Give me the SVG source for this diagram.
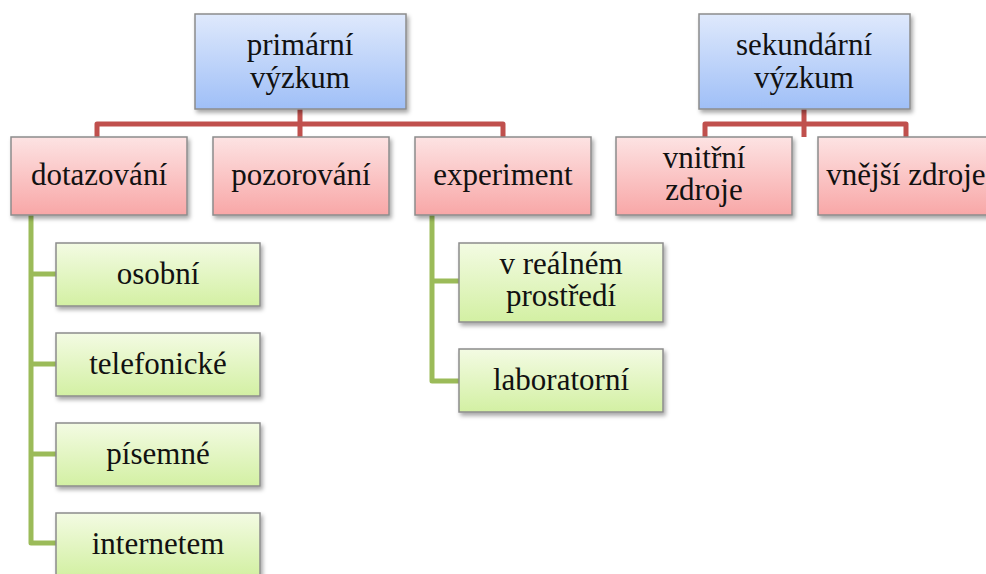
<svg xmlns="http://www.w3.org/2000/svg" width="986" height="574" viewBox="0 0 986 574">
<defs>
<linearGradient id="gb" x1="0" y1="0" x2="0" y2="1"><stop offset="0" stop-color="#dfe9fc"/><stop offset="1" stop-color="#9fbff7"/></linearGradient>
<linearGradient id="gr" x1="0" y1="0" x2="0" y2="1"><stop offset="0" stop-color="#fde3e3"/><stop offset="1" stop-color="#f8a7a7"/></linearGradient>
<linearGradient id="gg" x1="0" y1="0" x2="0" y2="1"><stop offset="0" stop-color="#f3fbe3"/><stop offset="1" stop-color="#d3f0a3"/></linearGradient>
<filter id="sh" x="-10%" y="-10%" width="125%" height="130%"><feDropShadow dx="2" dy="3" stdDeviation="2" flood-color="#000" flood-opacity="0.35"/></filter>
</defs>
<style>
text{font-family:"Liberation Serif","Times New Roman",serif;font-size:31px;fill:#111;text-anchor:middle}
.b{fill:url(#gb);stroke:#8c8c8c;stroke-width:1.5;filter:url(#sh)}
.r{fill:url(#gr);stroke:#8c8c8c;stroke-width:1.5;filter:url(#sh)}
.g{fill:url(#gg);stroke:#8c8c8c;stroke-width:1.5;filter:url(#sh)}
.cr{fill:none;stroke:#c0504d;stroke-width:5;stroke-linejoin:round}
.cg{fill:none;stroke:#9bbb59;stroke-width:5;stroke-linejoin:round}
</style>
<rect width="986" height="574" fill="#fff"/>
<g id="connectors">
<path class="cr" d="M300,109 V124 M97,137 V124 H503 V137 M300,124 V137"/>
<path class="cr" d="M804,109 V124 M705,137 V124 H906 V137 M804,124 V137"/>
<path class="cg" d="M31,215 V543 H56 M31,274 H56 M31,364 H56 M31,454 H56"/>
<path class="cg" d="M432,215 V381 H459 M432,281 H459"/>
</g>
<g id="primarni"><rect class="b" x="195" y="14" width="211" height="95"/><text x="300" y="55">primární</text><text x="300" y="88">výzkum</text></g>
<g id="sekundarni"><rect class="b" x="699" y="14" width="211" height="95"/><text x="804" y="55">sekundární</text><text x="804" y="88">výzkum</text></g>
<g id="dotazovani"><rect class="r" x="11" y="137" width="176" height="78"/><text x="99" y="185">dotazování</text></g>
<g id="pozorovani"><rect class="r" x="213" y="137" width="176" height="78"/><text x="301" y="185">pozorování</text></g>
<g id="experiment"><rect class="r" x="415" y="137" width="176" height="78"/><text x="503" y="185">experiment</text></g>
<g id="vnitrni"><rect class="r" x="616" y="137" width="176" height="78"/><text x="704" y="168">vnitřní</text><text x="704" y="200">zdroje</text></g>
<g id="vnejsi"><rect class="r" x="818" y="137" width="176" height="78"/><text x="906" y="185">vnější zdroje</text></g>
<g id="osobni"><rect class="g" x="56" y="243" width="204" height="63"/><text x="158" y="284">osobní</text></g>
<g id="telefonicke"><rect class="g" x="56" y="333" width="204" height="63"/><text x="158" y="374">telefonické</text></g>
<g id="pisemne"><rect class="g" x="56" y="423" width="204" height="63"/><text x="158" y="464">písemné</text></g>
<g id="internetem"><rect class="g" x="56" y="513" width="204" height="63"/><text x="158" y="554">internetem</text></g>
<g id="realne"><rect class="g" x="459" y="243" width="204" height="79"/><text x="561" y="274">v reálném</text><text x="561" y="306">prostředí</text></g>
<g id="laboratorni"><rect class="g" x="459" y="349" width="204" height="63"/><text x="561" y="390">laboratorní</text></g>
</svg>
